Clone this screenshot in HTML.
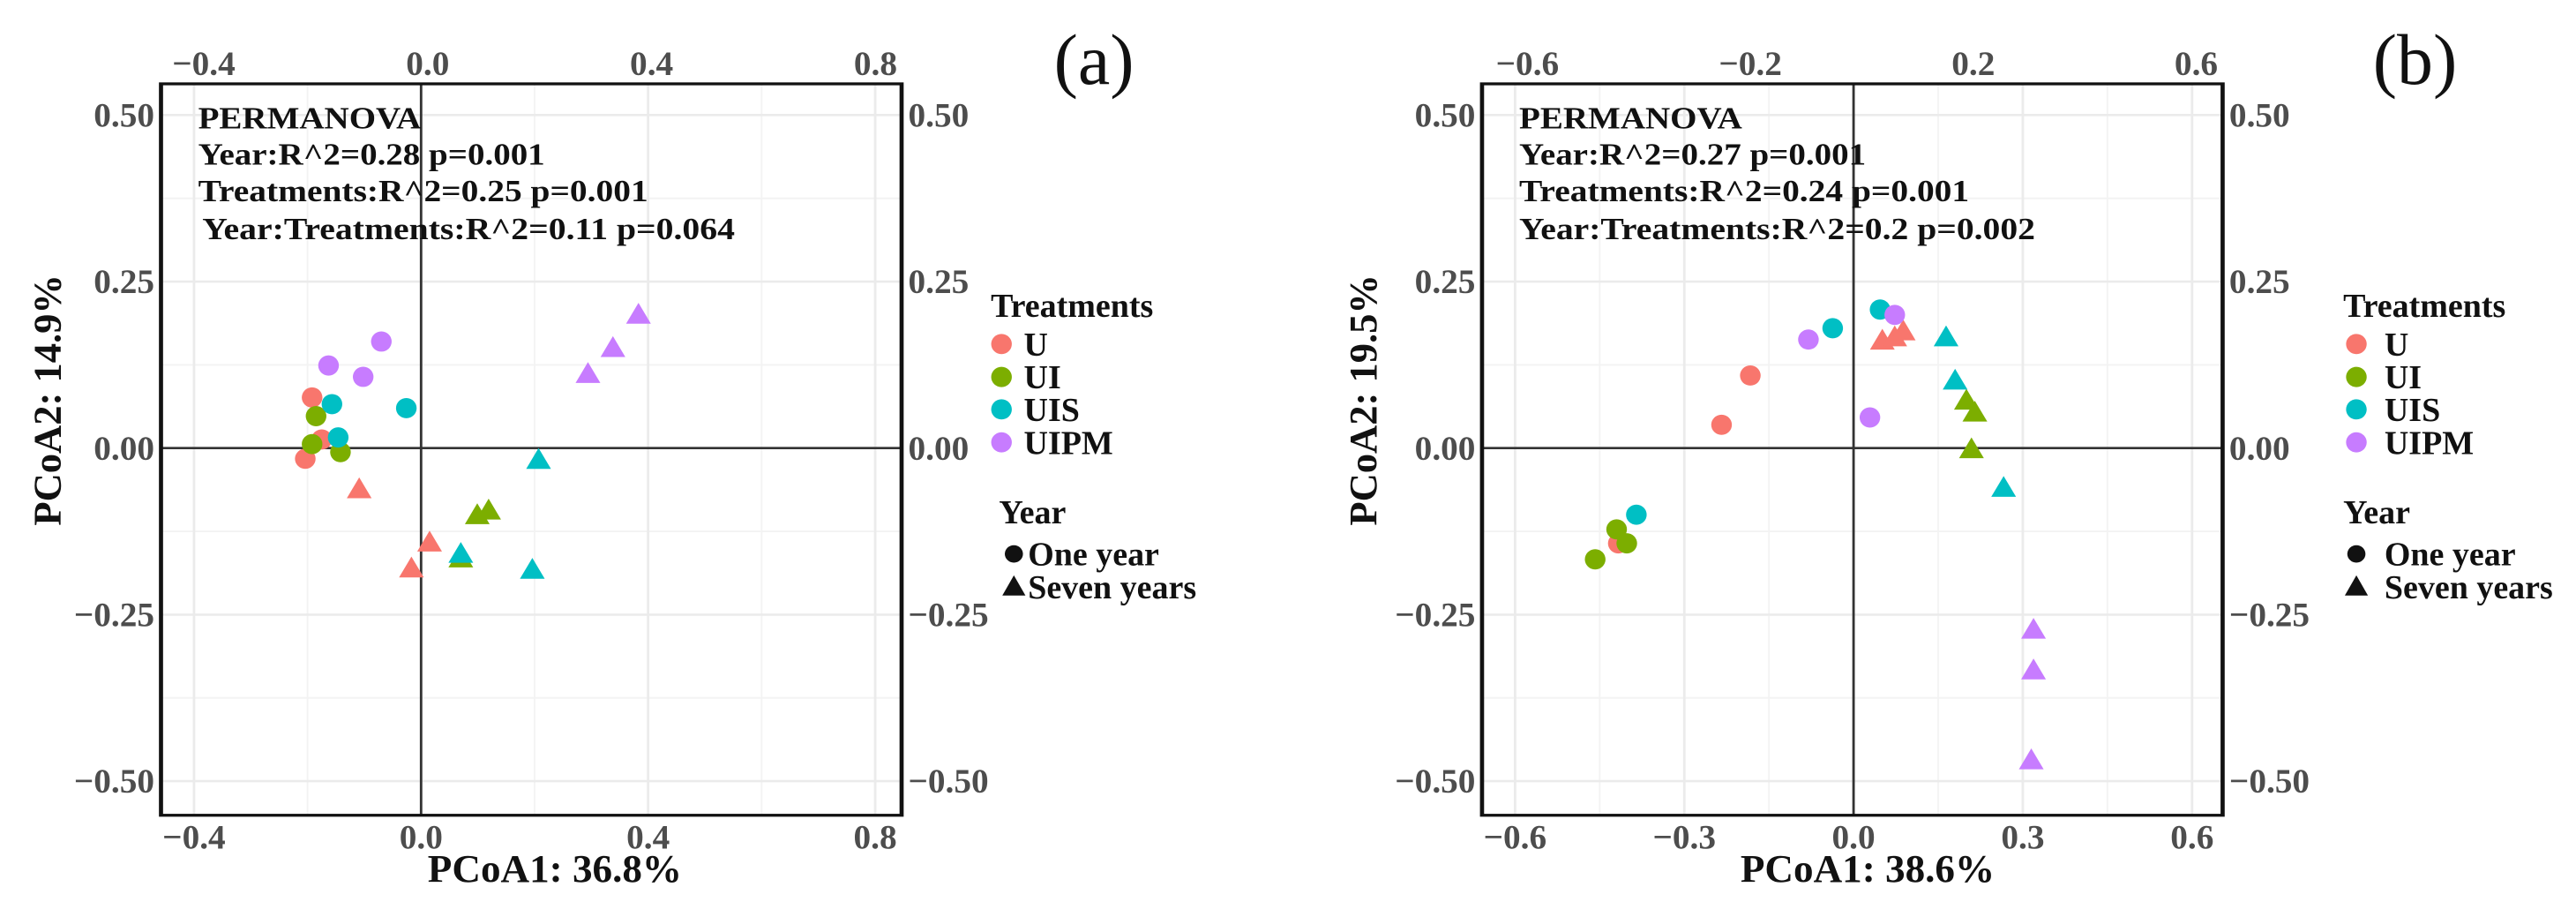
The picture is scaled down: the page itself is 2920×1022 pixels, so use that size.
<!DOCTYPE html>
<html><head><meta charset="utf-8"><style>
html,body{margin:0;padding:0;background:#fff;}
svg{display:block;}
text{font-family:"Liberation Serif",serif;}
</style></head>
<body>
<svg id="fig" width="2920" height="1022" viewBox="0 0 3120 1560" preserveAspectRatio="none" xmlns="http://www.w3.org/2000/svg"></svg>
<script>
const treatments = ["U","UI","UIS","UIPM"];
const colors = ["#F8766D","#7CAE00","#00BFC4","#C77CFF"];
const permA = ["PERMANOVA","Year:R^2=0.28 p=0.001","Treatments:R^2=0.25 p=0.001","Year:Treatments:R^2=0.11 p=0.064"];
const permB = ["PERMANOVA","Year:R^2=0.27 p=0.001","Treatments:R^2=0.24 p=0.001","Year:Treatments:R^2=0.2 p=0.002"];
const yTicks = [0.5,0.25,0,-0.25,-0.5];
const yTickLabels = ["0.50","0.25","0.00","\u22120.25","\u22120.50"];
const xTicksA = [-0.4,0,0.4,0.8];
const xTickLabelsA = ["\u22120.4","0.0","0.4","0.8"];
const xTicksB = [-0.6,-0.3,0,0.3,0.6];
const xTickLabelsB = ["\u22120.6","\u22120.3","0.0","0.3","0.6"];
const xTopTicksB = [-0.6,-0.2,0.2,0.6];
const xTopLabelsB = ["\u22120.6","\u22120.2","0.2","0.6"];
const aTreat = [0,0,0,0,0,0, 1,1,1,1,1,1, 2,2,2,2,2,2, 3,3,3,3,3,3];
const aYear  = [0,0,0,1,1,1, 0,0,0,1,1,1, 0,0,0,1,1,1, 0,0,0,1,1,1];
const aX = [-0.192,-0.175,-0.204,-0.109,0.015,-0.017, -0.185,-0.192,-0.142,0.099,0.119,0.070, -0.157,-0.146,-0.026,0.207,0.070,0.196, -0.163,-0.070,-0.102,0.294,0.338,0.383];
const aY = [0.076,0.013,-0.016,-0.063,-0.143,-0.182, 0.048,0.006,-0.006,-0.102,-0.095,-0.167, 0.066,0.016,0.060,-0.019,-0.160,-0.184, 0.124,0.160,0.107,0.110,0.149,0.199];
const bTreat = [0,0,0,0,0,0, 1,1,1,1,1,1, 2,2,2,2,2,2, 3,3,3,3,3,3];
const bYear  = [0,0,0,1,1,1, 0,0,0,1,1,1, 0,0,0,1,1,1, 0,0,0,1,1,1];
const bX = [-0.183,-0.234,-0.417,0.051,0.073,0.088, -0.420,-0.402,-0.458,0.200,0.215,0.209, 0.047,-0.037,-0.385,0.164,0.180,0.266, 0.073,-0.080,0.029,0.319,0.319,0.315];
const bY = [0.109,0.035,-0.143,0.160,0.165,0.174, -0.122,-0.143,-0.167,0.070,0.052,-0.003, 0.208,0.180,-0.100,0.165,0.100,-0.061, 0.200,0.163,0.046,-0.274,-0.335,-0.470];

const NS="http://www.w3.org/2000/svg";
const svg=document.getElementById('fig');
const K=0.7;
function el(tag,attrs,parent){const e=document.createElementNS(NS,tag);for(const k in attrs)e.setAttribute(k,attrs[k]);(parent||svg).appendChild(e);return e;}
function txt(s,x,y,attrs,parent,rot){
  const g=el('g',{transform:`translate(${x},${y}) scale(${K},1)`+(rot?' rotate(-90)':'')},parent);
  const a=Object.assign({x:0,y:0},attrs);
  if(a.textLength){a.textLength=a.textLength/K;a.lengthAdjust='spacingAndGlyphs';}
  const t=el('text',a,g);t.textContent=s;return t;
}

function panel(o){
  const g=el('g',{});
  
  
  const sx=v=>o.x0+v*o.xs, sy=v=>775-v*1152;
  const minY=[0.375,0.125,-0.125,-0.375];
  o.minorX.forEach(v=>{const l=el('line',{x1:sx(v),x2:sx(v),y1:o.top,y2:o.bottom,stroke:'#f3f3f3','stroke-width':2},g);});
  minY.forEach(v=>{const l=el('line',{x1:o.left,x2:o.right,y1:sy(v),y2:sy(v),stroke:'#f3f3f3','stroke-width':3},g);});
  o.xt.forEach(v=>{const l=el('line',{x1:sx(v),x2:sx(v),y1:o.top,y2:o.bottom,stroke:'#ebebeb','stroke-width':3},g);});
  yTicks.forEach(v=>{const l=el('line',{x1:o.left,x2:o.right,y1:sy(v),y2:sy(v),stroke:'#ebebeb','stroke-width':4},g);});
  const zv=el('line',{x1:sx(0),x2:sx(0),y1:o.top,y2:o.bottom,stroke:'#333','stroke-width':3},g);
  
  const zh=el('line',{x1:o.left,x2:o.right,y1:sy(0),y2:sy(0),stroke:'#333','stroke-width':4},g);
  
  for(let i=0;i<o.px.length;i++){
    const cx=sx(o.px[i]), cy=sy(o.py[i]), c=colors[o.pt[i]];
    let m;
    if(o.yr[i]===0){m=el('ellipse',{cx:cx,cy:cy,rx:12.5,ry:17.5,fill:c},g);}
    else{m=el('polygon',{points:`${cx},${cy-22} ${cx-15},${cy+14} ${cx+15},${cy+14}`,fill:c},g);}
    
    
  }
  const box=el('rect',{x:o.left,y:o.top,width:o.right-o.left,height:o.bottom-o.top,fill:'none',stroke:'#111','stroke-width':5},g);
  
  yTicks.forEach((v,i)=>{
    const a=txt(yTickLabels[i],o.left-8,sy(v)+20,{'text-anchor':'end','font-size':60,'font-weight':'bold',fill:'#4d4d4d'},g);
    
    const b=txt(yTickLabels[i],o.right+8,sy(v)+20,{'font-size':60,'font-weight':'bold',fill:'#4d4d4d'},g);
    
  });
  o.xt.forEach((v,i)=>{
    const a=txt(o.xl[i],sx(v),1468,{'text-anchor':'middle','font-size':60,'font-weight':'bold',fill:'#4d4d4d'},g);
    
  });
  o.tt.forEach((v,i)=>{
    const a=txt(o.tl[i],o.tx0+v*o.txs,130,{'text-anchor':'middle','font-size':60,'font-weight':'bold',fill:'#4d4d4d'},g);
    
  });
  const ys=[222,285,348,414];
  o.perm.forEach((s,i)=>{
    const t=txt(s,o.permX[i],ys[i],{'font-size':54,'font-weight':'bold',fill:'#111',textLength:o.permW[i]},g);
    
  });
  const xt=txt(o.xtitle,o.xtx-154,1525,{'font-size':68,'font-weight':'bold',fill:'#111',textLength:308},g);
  
  const yt=txt(o.ytitle,o.ytx,692,{'text-anchor':'middle','font-size':68,'font-weight':'bold',fill:'#111'},g,true);
  
  const lab=txt(o.label,o.labx,145,{'text-anchor':'middle','font-size':125,fill:'#111'},g);
  
  const lg=el('g',{},g);
  
  const lt=txt('Treatments',o.lgx,548,{'font-size':58,'font-weight':'bold',fill:'#111'},lg);
  
  const ly=[595,652,708,765];
  treatments.forEach((t,i)=>{
    const c=el('ellipse',{cx:o.lgx+o.dx,cy:ly[i],rx:12.5,ry:17.5,fill:colors[i]},lg);
    
    const tx=txt(t,o.lgx+o.tx,ly[i]+20,{'font-size':58,'font-weight':'bold',fill:'#111'},lg);
    
  });
  const yy=txt('Year',o.lgx+o.yx,905,{'font-size':58,'font-weight':'bold',fill:'#111'},lg);
  
  const kx=o.lgx+o.kx;
  const k1=el('ellipse',{cx:kx,cy:958,rx:11,ry:15,fill:'#111'},lg);
  
  const t1=txt('One year',o.lgx+o.ktx,978,{'font-size':58,'font-weight':'bold',fill:'#111'},lg);
  
  const k2=el('polygon',{points:`${kx},${995} ${kx-14},${1030} ${kx+14},${1030}`,fill:'#111'},lg);
  
  const t2=txt('Seven years',o.lgx+o.ktx,1035,{'font-size':58,'font-weight':'bold',fill:'#111'},lg);
  
}

panel({name:'panel-a',left:195,right:1092,top:145,bottom:1410,x0:510,xs:687.5,
  xt:xTicksA,xl:xTickLabelsA,minorX:[-0.2,0.2,0.6],tt:xTicksA,tl:xTickLabelsA,tx0:518,txs:678,
  px:aX,py:aY,pt:aTreat,yr:aYear,perm:permA,permX:[240,240,240,245],permW:[270,420,545,645],
  xtitle:'PCoA1: 36.8%',xtx:672,ytitle:'PCoA2: 14.9%',ytx:73,label:'(a)',labx:1325,
  lgx:1200,dx:13,tx:40,yx:10,kx:28,ktx:45});
panel({name:'panel-b',left:1795,right:2692,top:145,bottom:1410,x0:2245,xs:683.3,
  xt:xTicksB,xl:xTickLabelsB,minorX:[-0.45,-0.15,0.15,0.45],tt:xTopTicksB,tl:xTopLabelsB,tx0:2255,txs:675,
  px:bX,py:bY,pt:bTreat,yr:bYear,perm:permB,permX:[1840,1840,1840,1840],permW:[270,420,545,625],
  xtitle:'PCoA1: 38.6%',xtx:2262,ytitle:'PCoA2: 19.5%',ytx:1667,label:'(b)',labx:2925,
  lgx:2838,dx:16,tx:50,yx:0,kx:16,ktx:50});
</script>
</body></html>
